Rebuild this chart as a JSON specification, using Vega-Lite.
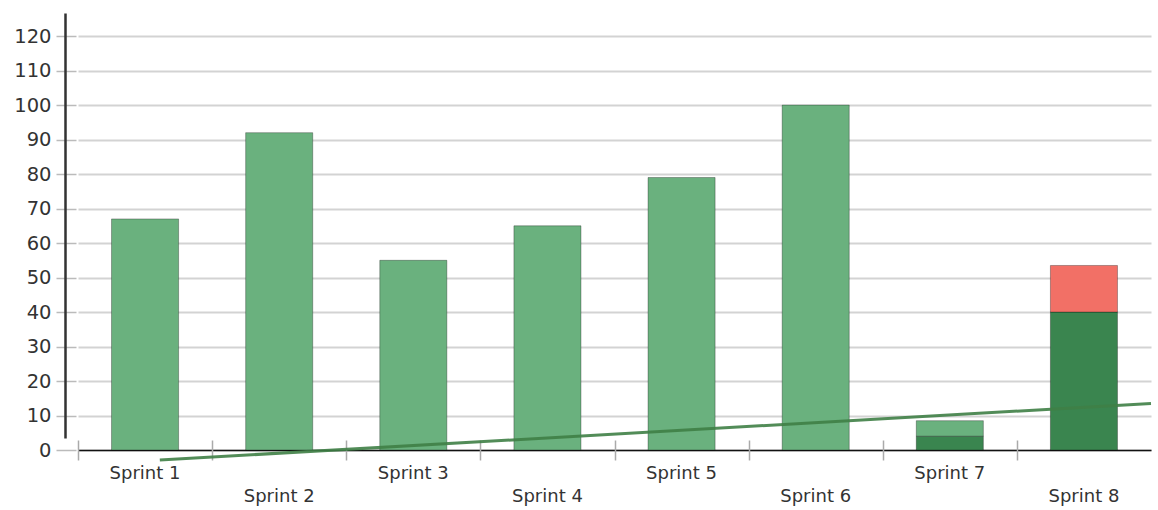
{
  "$schema": "https://vega.github.io/schema/vega-lite/v6.json",
  "width": 1073,
  "height": 437,
  "autosize": {"type": "none"},
  "padding": {"left": 78, "top": 13, "right": 7, "bottom": 60},
  "background": "white",
  "config": {
    "view": {"stroke": null},
    "axis": {"labelFont": "DejaVu Sans", "labelColor": "#333333"}
  },
  "layer": [
    {
      "data": {
        "values": [
          {"sprint": "Sprint 1", "status": "Completed", "points": 67},
          {"sprint": "Sprint 2", "status": "Completed", "points": 92},
          {"sprint": "Sprint 3", "status": "Completed", "points": 55},
          {"sprint": "Sprint 4", "status": "Completed", "points": 65},
          {"sprint": "Sprint 5", "status": "Completed", "points": 79},
          {"sprint": "Sprint 6", "status": "Completed", "points": 100},
          {"sprint": "Sprint 7", "status": "Accepted", "points": 4},
          {"sprint": "Sprint 7", "status": "Completed", "points": 4.5},
          {"sprint": "Sprint 8", "status": "Accepted", "points": 40},
          {"sprint": "Sprint 8", "status": "Not accepted", "points": 13.5}
        ]
      },
      "mark": {"type": "bar", "stroke": "#000000", "strokeOpacity": 0.3, "strokeWidth": 1},
      "encoding": {
        "x": {
          "field": "sprint",
          "type": "nominal",
          "sort": null,
          "scale": {"paddingInner": 0.5, "paddingOuter": 0.25},
          "axis": {
            "orient": "bottom",
            "title": null,
            "domainColor": "#111111",
            "domainWidth": 1.5,
            "ticks": false,
            "grid": false,
            "labelAngle": 0,
            "labelFontSize": 18,
            "labelBaseline": "top",
            "labelPadding": {
              "condition": {
                "test": "indexof(['Sprint 2','Sprint 4','Sprint 6','Sprint 8'], datum.value) >= 0",
                "value": 37
              },
              "value": 14
            }
          }
        },
        "y": {
          "field": "points",
          "type": "quantitative",
          "stack": "zero",
          "scale": {"domain": [0, 126.7], "nice": false},
          "axis": {
            "orient": "left",
            "title": null,
            "offset": 2,
            "values": [0, 10, 20, 30, 40, 50, 60, 70, 80, 90, 100, 110, 120],
            "tickSize": 20,
            "tickColor": "#bbbbbb",
            "tickWidth": 1.5,
            "domain": false,
            "grid": true,
            "gridColor": "#d3d3d3",
            "gridWidth": 2,
            "labelFontSize": 19.5,
            "labelPadding": 5
          }
        },
        "color": {
          "field": "status",
          "type": "nominal",
          "scale": {
            "domain": ["Accepted", "Completed", "Not accepted"],
            "range": ["#3a854f", "#6ab17e", "#f27066"]
          },
          "legend": null
        },
        "order": {"field": "status", "sort": "ascending"}
      }
    },
    {
      "data": {
        "values": [
          {"t": 0.61, "trend": -2.9},
          {"t": 8, "trend": 13.5}
        ]
      },
      "mark": {"type": "line", "color": "#3f8046", "strokeWidth": 3, "opacity": 0.9, "clip": false},
      "encoding": {
        "x": {
          "field": "t",
          "type": "quantitative",
          "scale": {"domain": [0, 8], "nice": false, "zero": false},
          "axis": {
            "orient": "bottom",
            "title": null,
            "offset": -10,
            "values": [0, 1, 2, 3, 4, 5, 6, 7],
            "tickSize": 20,
            "tickColor": "#aaaaaa",
            "tickWidth": 1.5,
            "labels": false,
            "domain": false,
            "grid": false
          }
        },
        "y": {
          "field": "trend",
          "type": "quantitative",
          "axis": {
            "orient": "left",
            "title": null,
            "offset": 13,
            "domain": true,
            "domainColor": "#333333",
            "domainWidth": 2.5,
            "domainDash": [0, 12, 500],
            "ticks": false,
            "labels": false,
            "grid": false
          }
        }
      }
    }
  ],
  "resolve": {
    "scale": {"x": "independent"},
    "axis": {"x": "independent", "y": "independent"}
  }
}
